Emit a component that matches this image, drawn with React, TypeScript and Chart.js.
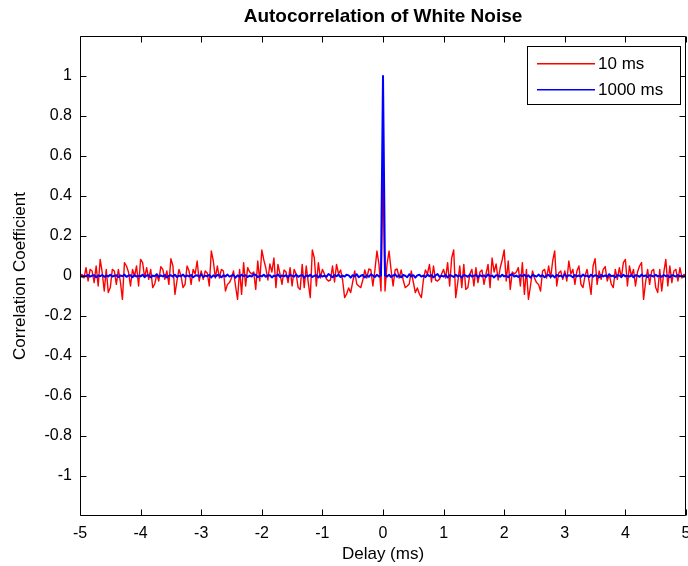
import { useEffect, useRef } from 'react';
import { Chart, registerables } from 'chart.js';

Chart.register(...registerables);

const TITLE = 'Autocorrelation of White Noise';
const X_LABEL = 'Delay (ms)';
const Y_LABEL = 'Correlation Coefficient';
const SERIES_NAMES = ['10 ms', '1000 ms'];
const SERIES_COLORS = ['#ff0000', '#0000ff'];

const X_TICKS = [-5, -4, -3, -2, -1, 0, 1, 2, 3, 4, 5];
const Y_TICKS = [-1, -0.8, -0.6, -0.4, -0.2, 0, 0.2, 0.4, 0.6, 0.8, 1];

// lag spacing (ms); autocorrelation is symmetric, so values are read for positive lags
const LAG_STEP_MS = 1 / 30;

const RED_PEAK = 0.52;
const RED_POSITIVE_LAGS = [
  -0.075, 0.06, 0.125, 0.03, -0.05, 0.03, 0.035, -0.01, 0.03, -0.02,
  -0.058, -0.05, -0.04, 0.025, -0.03, -0.083, -0.06, -0.09, -0.108, -0.02,
  0.03, 0.01, 0.058, -0.03, 0.05, -0.02, -0.025, -0.015, 0.01, 0.033,
  -0.01, 0.067, -0.05, 0.09, 0.13, -0.108, -0.033,
  0.05, -0.058, 0.058, -0.067, -0.058, 0.01, 0.033, -0.05, 0.042, -0.033,
  0.02, 0.03, -0.042, 0.01, 0.058, -0.058, 0.09, 0.02, 0.06, -0.02,
  0.04, 0.08, 0.13, -0.025, 0.075, -0.067, 0.02, 0.01, 0.02, 0.042,
  -0.05, 0.067, -0.092, 0.033, -0.117, -0.05, 0.025, -0.01,
  -0.033, -0.042, -0.075, 0.025, 0.033, -0.01, 0.05, -0.01, 0.075, 0.125,
  -0.05, 0.015, 0.025, -0.017, 0.025, -0.025, 0.075, 0.01, 0.033, -0.042,
  0.025, 0.05, -0.042, -0.058, 0.0, 0.033, -0.025, -0.092, 0.05, 0.087,
  -0.042, 0.025, -0.017, 0.033, 0.047, -0.025, 0.008, -0.04,
  -0.058, 0.033, -0.017, 0.042, -0.008, 0.067, 0.083, -0.05, 0.05, 0.0,
  0.033, -0.05, 0.02, 0.05, 0.067, -0.117, -0.03, 0.033, -0.042, 0.025,
  0.033, -0.058, -0.083, 0.033, -0.075, 0.017, 0.083, -0.05, 0.05, -0.033,
  0.025, 0.033, -0.025, 0.042, -0.01, 0.008, 0.0,
];

const BLUE_PEAK = 1;
const BLUE_POSITIVE_LAGS = [
  0.004, -0.003, 0.006, -0.005, 0.002, 0.008, -0.004, 0.003, -0.007, 0.005,
  0.001, -0.006, 0.009, -0.002, 0.004, -0.008, 0.003, 0.006, -0.003, 0.002,
  -0.005, 0.007, -0.001, 0.004, -0.006, 0.003, 0.010, -0.004, 0.002, -0.003,
  0.005, -0.007, 0.004, 0.001, -0.005, 0.006, -0.002, 0.003, -0.008, 0.005,
  0.002, -0.004, 0.007, -0.003, 0.001, 0.006, -0.006, 0.004, -0.002, 0.003,
  -0.005, 0.008, -0.001, 0.002, -0.007, 0.004, 0.003, -0.004, 0.006, -0.002,
  0.001, -0.006, 0.005, 0.009, -0.003, 0.002, -0.005, 0.004, -0.001, 0.006,
  -0.004, 0.003, -0.008, 0.005, 0.001, -0.003, 0.007, -0.002, 0.004, -0.006,
  0.002, 0.005, -0.004, 0.003, -0.007, 0.006, -0.001, 0.002, -0.005, 0.008,
  -0.003, 0.004, 0.001, -0.006, 0.005, -0.002, 0.003, -0.004, 0.007, -0.001,
  0.002, -0.005, 0.006, -0.003, 0.004, 0.001, -0.007, 0.005, -0.002, 0.003,
  -0.004, 0.009, -0.001, 0.002, -0.006, 0.004, 0.003, -0.005, 0.006, -0.002,
  0.001, -0.003, 0.005, -0.006, 0.004, 0.002, -0.004, 0.007, -0.001, 0.003,
  -0.005, 0.004, 0.001, -0.003, 0.006, -0.002, 0.002, -0.004, 0.005, -0.001,
  0.003, -0.006, 0.004, 0.002, -0.003, 0.005, -0.002, 0.001, -0.004, 0.003,
];

const FONT = '"Liberation Sans", Arial, Helvetica, sans-serif';

function symmetricSeries(peak: number, positive: number[]) {
  const n = positive.length;
  const pts: { x: number; y: number }[] = [];
  for (let k = -n; k <= n; k++) {
    const y = k === 0 ? peak : positive[Math.abs(k) - 1];
    pts.push({ x: k * LAG_STEP_MS, y });
  }
  return pts;
}

const matlabFrame = {
  id: 'matlabFrame',
  afterDraw(chart: any) {
    const { ctx, chartArea, scales } = chart;
    const { left, right, top, bottom } = chartArea;
    const L = Math.round(left) + 0.5;
    const R = Math.round(right) - 0.5;
    const T = Math.round(top) + 0.5;
    const B = Math.round(bottom) - 0.5;
    const tick = 6;
    ctx.save();
    ctx.strokeStyle = '#000000';
    ctx.lineWidth = 1;
    ctx.beginPath();
    ctx.rect(L, T, R - L, B - T);
    for (const v of X_TICKS) {
      const p = Math.round(scales.x.getPixelForValue(v)) + 0.5;
      ctx.moveTo(p, B);
      ctx.lineTo(p, B - tick);
      ctx.moveTo(p, T);
      ctx.lineTo(p, T + tick);
    }
    for (const v of Y_TICKS) {
      const p = Math.round(scales.y.getPixelForValue(v)) + 0.5;
      ctx.moveTo(L, p);
      ctx.lineTo(L + tick, p);
      ctx.moveTo(R, p);
      ctx.lineTo(R - tick, p);
    }
    ctx.stroke();

    // title
    ctx.fillStyle = '#000000';
    ctx.font = `bold 19px ${FONT}`;
    ctx.textAlign = 'center';
    ctx.textBaseline = 'middle';
    ctx.fillText(TITLE, (left + right) / 2, 17);

    // legend
    const bx = 527.5, by = 46.5, bw = 153, bh = 58;
    ctx.fillStyle = '#ffffff';
    ctx.fillRect(bx, by, bw, bh);
    ctx.strokeStyle = '#000000';
    ctx.lineWidth = 1;
    ctx.strokeRect(bx, by, bw, bh);
    ctx.font = `17px ${FONT}`;
    ctx.textAlign = 'left';
    ctx.textBaseline = 'middle';
    const rows = [63, 89];
    SERIES_NAMES.forEach((name, i) => {
      ctx.fillStyle = SERIES_COLORS[i];
      ctx.fillRect(537, rows[i], 58, 1.5);
      ctx.fillStyle = '#000000';
      ctx.fillText(name, 598, rows[i] + 1);
    });
    ctx.restore();
  },
};

export default function App() {
  const ref = useRef<HTMLCanvasElement | null>(null);
  useEffect(() => {
    const canvas = ref.current;
    if (!canvas) return;
    const chart = new Chart(canvas, {
      type: 'line',
      data: {
        datasets: [
          {
            label: SERIES_NAMES[0],
            data: symmetricSeries(RED_PEAK, RED_POSITIVE_LAGS),
            borderColor: SERIES_COLORS[0],
            borderWidth: 1.4,
            pointRadius: 0,
            tension: 0,
            borderJoinStyle: 'round',
            order: 1,
          },
          {
            label: SERIES_NAMES[1],
            data: symmetricSeries(BLUE_PEAK, BLUE_POSITIVE_LAGS),
            borderColor: SERIES_COLORS[1],
            borderWidth: 2,
            pointRadius: 0,
            tension: 0,
            borderJoinStyle: 'round',
            order: 0,
          },
        ],
      },
      options: {
        animation: false,
        responsive: false,
        devicePixelRatio: 1,
        parsing: false,
        layout: { padding: { top: 36, right: 2, left: 0, bottom: 0 } },
        plugins: {
          legend: { display: false },
          tooltip: { enabled: false },
          title: { display: false },
        },
        scales: {
          x: {
            type: 'linear',
            min: -5,
            max: 5,
            afterBuildTicks: (s: any) => {
              s.ticks = X_TICKS.map((v) => ({ value: v }));
            },
            afterFit: (s: any) => {
              s.height = 50;
              s.paddingLeft = 0;
              s.paddingRight = 0;
            },
            grid: { display: false, drawTicks: false },
            border: { display: false },
            ticks: {
              color: '#000',
              padding: 8,
              font: { family: FONT, size: 16 },
              maxRotation: 0,
              autoSkip: false,
              callback: (v: any) => String(v),
            },
            title: {
              display: true,
              text: X_LABEL,
              color: '#000',
              font: { family: FONT, size: 17 },
              padding: { top: 0, bottom: 1 },
            },
          },
          y: {
            type: 'linear',
            min: -1.2,
            max: 1.2,
            afterBuildTicks: (s: any) => {
              s.ticks = Y_TICKS.map((v) => ({ value: v }));
            },
            afterFit: (s: any) => {
              s.width = 80;
              s.paddingTop = 0;
              s.paddingBottom = 0;
            },
            grid: { display: false, drawTicks: false },
            border: { display: false },
            ticks: {
              color: '#000',
              padding: 8,
              font: { family: FONT, size: 16 },
              autoSkip: false,
              callback: (v: any) => String(Number(Number(v).toFixed(1))),
            },
            title: {
              display: true,
              text: Y_LABEL,
              color: '#000',
              font: { family: FONT, size: 17 },
              padding: { top: 10, bottom: 0 },
            },
          },
        },
      },
      plugins: [matlabFrame],
    } as any);
    return () => chart.destroy();
  }, []);
  return (
    <div style={{ position: 'fixed', left: 0, top: 0, width: 688, height: 566, background: '#fff' }}>
      <canvas ref={ref} width={688} height={566} style={{ display: 'block' }} />
    </div>
  );
}
